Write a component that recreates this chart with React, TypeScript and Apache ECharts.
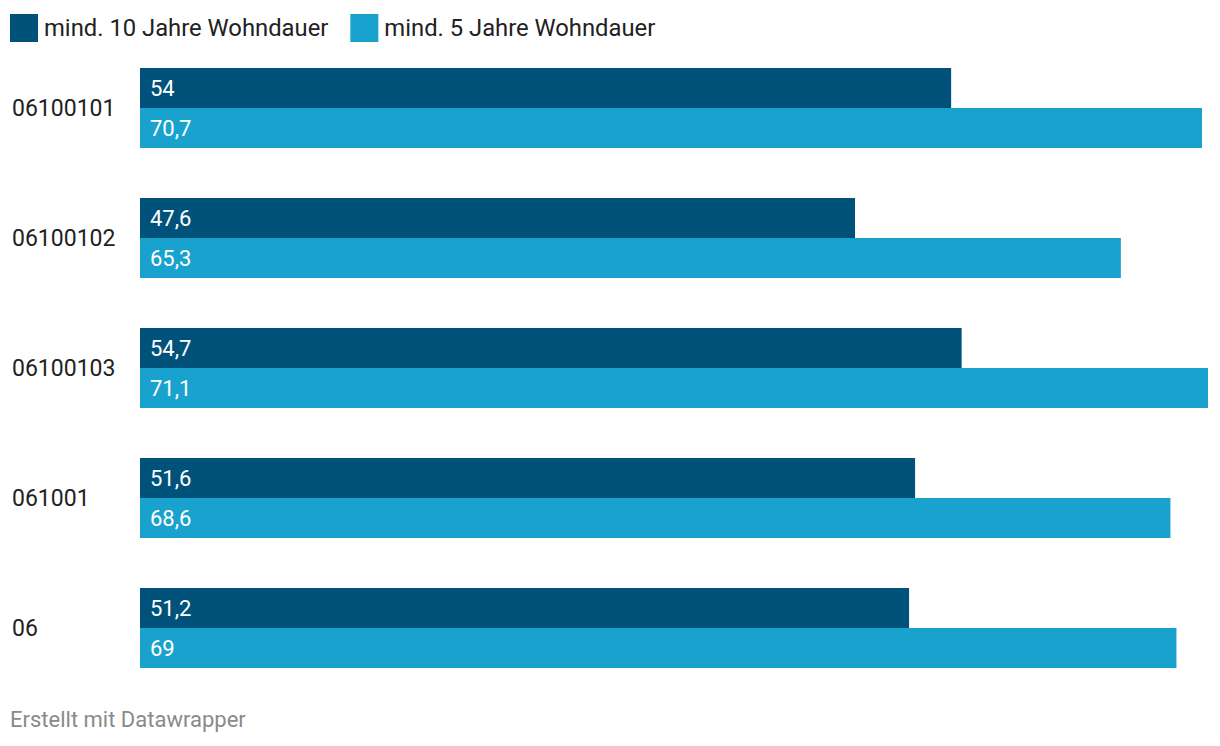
import React, { useEffect, useRef } from "react";
import * as echarts from "echarts";

const categories = ["06100101", "06100102", "06100103", "061001", "06"];
const seriesNames = ["mind. 10 Jahre Wohndauer", "mind. 5 Jahre Wohndauer"];
const tenYears = [54, 47.6, 54.7, 51.6, 51.2];
const fiveYears = [70.7, 65.3, 71.1, 68.6, 69];
const colors = ["#00527a", "#1aa2cf"];
const footer = "Erstellt mit Datawrapper";

const fmt = (v: number) => String(v).replace(".", ",");

export default function App() {
  const ref = useRef<HTMLDivElement>(null);
  useEffect(() => {
    if (!ref.current) return;
    const chart = echarts.init(ref.current, undefined, { renderer: "svg" });
    const font = "Roboto";
    const mkSeries = (name: string, data: number[], color: string) => ({
      name,
      type: "bar",
      data,
      barWidth: 40,
      barGap: "0%",
      itemStyle: { color },
      label: {
        show: true,
        position: "insideLeft",
        distance: 10,
        color: "#ffffff",
        fontFamily: font,
        fontSize: 22,
        formatter: (p: any) => fmt(p.value),
      },
    });
    chart.setOption({
      animation: false,
      textStyle: { fontFamily: font },
      legend: {
        left: 10,
        top: 14,
        padding: 0,
        itemWidth: 28,
        itemHeight: 28,
        itemGap: 22,
        icon: "rect",
        textStyle: { fontFamily: font, fontSize: 23.8, color: "#222222", padding: [0, 0, 0, 1] },
        data: seriesNames,
        selectedMode: false,
      },
      grid: { left: 140, right: 12, top: 43, height: 650, containLabel: false },
      xAxis: {
        type: "value",
        min: 0,
        max: "dataMax",
        show: false,
      },
      yAxis: {
        type: "category",
        data: categories,
        inverse: true,
        axisLine: { show: false },
        axisTick: { show: false },
        axisLabel: {
          align: "left",
          margin: 128,
          fontFamily: font,
          fontSize: 23,
          color: "#222222",
        },
      },
      series: [
        mkSeries(seriesNames[0], tenYears, colors[0]),
        mkSeries(seriesNames[1], fiveYears, colors[1]),
      ],
      graphic: [
        {
          type: "text",
          left: 10,
          top: 708,
          style: { text: footer, fontFamily: font, fontSize: 22, fill: "#8a8a8a" },
        },
      ],
    });
    return () => chart.dispose();
  }, []);
  return <div ref={ref} style={{ width: 1220, height: 746, position: "absolute", left: 0, top: 0 }} />;
}
